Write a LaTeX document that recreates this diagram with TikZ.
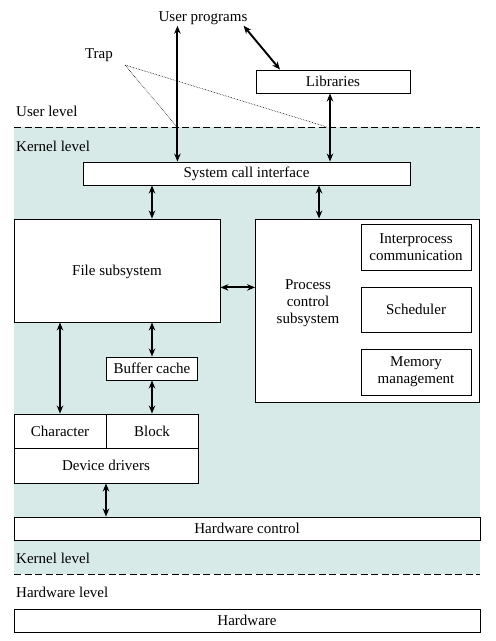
\documentclass[tikz,border=0pt]{standalone}
\usepackage{fontspec}
\setmainfont{Liberation Serif}
\usetikzlibrary{arrows.meta}
\definecolor{kernelbg}{RGB}{216,234,232}

\begin{document}
\begin{tikzpicture}
[x=1pt,y=-1pt,font=\fontsize{15}{17}\selectfont,
 box/.style={draw,fill=white,line width=0.9pt,inner sep=0pt,align=center},
 lvl/.style={anchor=west,inner sep=0pt},
 arr/.style={{Stealth[length=8pt,width=6.5pt]}-{Stealth[length=8pt,width=6.5pt]},line width=1.9pt},
 sep/.style={dash pattern=on 7pt off 3.5pt,line width=0.9pt}]
\useasboundingbox (0,0) rectangle (496,641);
% kernel band
\fill[kernelbg] (14,127) rectangle (480,574);
\draw[sep] (14,127) -- (480,127);
\draw[sep] (14,574) -- (480,574);
\node[lvl] (ulvl) at (16,111) {User level};
\node[lvl] (klvl) at (16,146) {Kernel level};
\node[lvl] (klvl2) at (16,558) {Kernel level};
\node[lvl] (hlvl) at (16,592) {Hardware level};
% user side
\node[inner sep=1pt] (up) at (203,18) {User programs};
\node[inner sep=1pt] (trap) at (99,55) {Trap};
\coordinate (trapfoot) at (125,65);
\coordinate (t1) at (177,127);
\coordinate (t2) at (327,127);
\node[box,minimum width=154pt,minimum height=23pt] (lib) at (333,81.5) {Libraries};
% kernel boxes
\node[box,minimum width=327pt,minimum height=23pt] (sci) at (246.5,173.5) {System call interface};
\node[box,minimum width=206pt,minimum height=103pt] (file) at (117,270.5) {};
\node (filelbl) at (117,272) {File subsystem};
\node[box,minimum width=224pt,minimum height=183pt] (proc) at (367.5,310.5) {};
\node[align=center,inner sep=0pt] (proclbl) at (308,303) {Process\\control\\subsystem};
\node[box,minimum width=110pt,minimum height=46pt] (ipc) at (416,247) {Interprocess\\communication};
\node[box,minimum width=110pt,minimum height=45pt] (sch) at (416,309.5) {Scheduler};
\node[box,minimum width=110pt,minimum height=46pt] (mem) at (416,372) {Memory\\management};
\node[box,minimum width=91pt,minimum height=23pt] (buf) at (152,368.5) {Buffer cache};
\node[box,minimum width=92pt,minimum height=34pt] (chr) at (60,431) {Character};
\node[box,minimum width=92pt,minimum height=34pt] (blk) at (152,431) {Block};
\node[box,minimum width=184pt,minimum height=35pt] (dev) at (106,465.5) {Device drivers};
\node[box,minimum width=466pt,minimum height=23pt] (hwc) at (247,528.5) {Hardware control};
\node[box,minimum width=466pt,minimum height=23pt] (hw) at (247,620.5) {Hardware};
% trap lines
\draw[densely dotted,line width=0.6pt] (t1) -- (trapfoot) -- (t2);
% connectors
\draw[arr] ([xshift=20pt]up.south west) -- ([xshift=20pt]up.south west |- sci.north);
\draw[arr] ([xshift=-5pt]up.south east) -- ([xshift=-53pt]lib.north);
\draw[arr] ([xshift=-3pt]lib.south) -- ([xshift=-3pt]lib.south |- sci.north);
\draw[arr] (buf.north |- sci.south) -- (buf.north |- file.north);
\draw[arr] ([xshift=64pt]proc.north west |- sci.south) -- ([xshift=64pt]proc.north west);
\draw[arr] ([yshift=-16.9pt]file.east) -- ([yshift=-16.9pt]file.east -| proc.west);
\draw[arr] (buf.north |- file.south) -- (buf.north);
\draw[arr] (buf.south) -- (blk.north);
\draw[arr] (chr.north |- file.south) -- (chr.north);
\draw[arr] (dev.south) -- (dev.south |- hwc.north);
\end{tikzpicture}
\end{document}
